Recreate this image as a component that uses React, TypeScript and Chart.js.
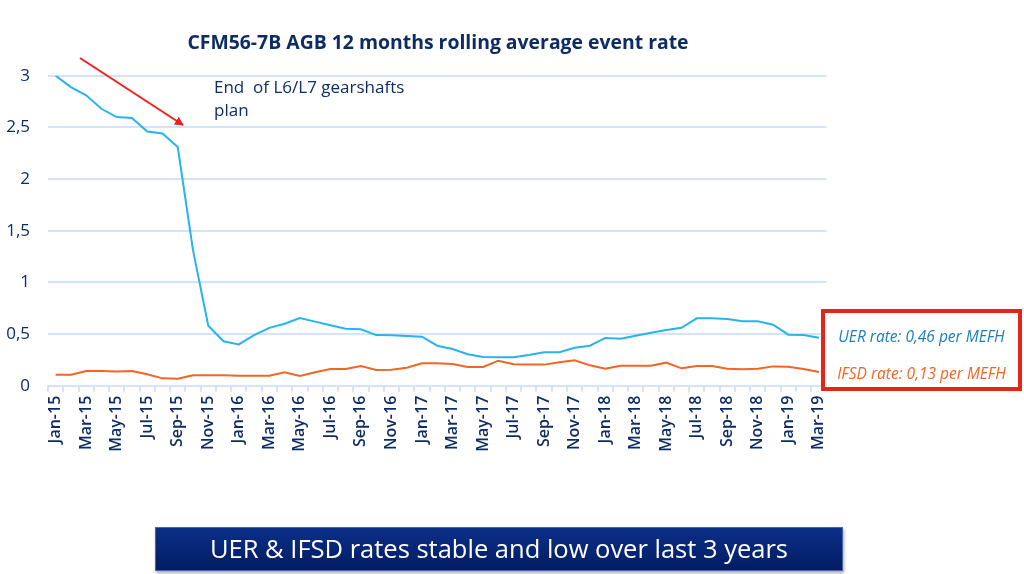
import React, { useEffect, useRef } from "react";
import { Chart, registerables } from "chart.js";
Chart.register(...registerables);

const months = [
  "Jan-15","Feb-15","Mar-15","Apr-15","May-15","Jun-15","Jul-15","Aug-15","Sep-15","Oct-15","Nov-15","Dec-15",
  "Jan-16","Feb-16","Mar-16","Apr-16","May-16","Jun-16","Jul-16","Aug-16","Sep-16","Oct-16","Nov-16","Dec-16",
  "Jan-17","Feb-17","Mar-17","Apr-17","May-17","Jun-17","Jul-17","Aug-17","Sep-17","Oct-17","Nov-17","Dec-17",
  "Jan-18","Feb-18","Mar-18","Apr-18","May-18","Jun-18","Jul-18","Aug-18","Sep-18","Oct-18","Nov-18","Dec-18",
  "Jan-19","Feb-19","Mar-19",
];

const uerRate = [
  3.0, 2.89, 2.81, 2.68, 2.6, 2.59, 2.46, 2.44, 2.31, 1.31, 0.58, 0.43,
  0.4, 0.49, 0.56, 0.6, 0.655, 0.62, 0.585, 0.552, 0.546, 0.49, 0.488, 0.481,
  0.474, 0.387, 0.355, 0.304, 0.278, 0.275, 0.275, 0.297, 0.323, 0.323, 0.368, 0.387,
  0.462, 0.455, 0.484, 0.513, 0.539, 0.561, 0.652, 0.652, 0.646, 0.623, 0.623, 0.59,
  0.494, 0.49, 0.465,
];

const ifsdRate = [
  0.107, 0.107, 0.142, 0.142, 0.138, 0.142, 0.11, 0.071, 0.068, 0.1, 0.1, 0.1,
  0.097, 0.097, 0.097, 0.13, 0.094, 0.13, 0.161, 0.161, 0.19, 0.152, 0.155, 0.174,
  0.217, 0.217, 0.21, 0.181, 0.181, 0.242, 0.207, 0.204, 0.204, 0.226, 0.246, 0.197,
  0.165, 0.194, 0.194, 0.194, 0.223, 0.168, 0.19, 0.19, 0.165, 0.158, 0.165, 0.187,
  0.184, 0.161, 0.132,
];

const yMin = 0;
const yMax = 3;
const yStep = 0.5;

const NAVY = "#0d2c66";
const BLUE = "#27b4ee";
const ORANGE = "#f26522";
const GRID = "#d3e3fa";

export default function App() {
  const ref = useRef<HTMLCanvasElement | null>(null);

  useEffect(() => {
    if (!ref.current) return;
    const chart = new Chart(ref.current, {
      type: "line",
      data: {
        labels: months,
        datasets: [
          {
            label: "UER rate",
            data: uerRate,
            borderColor: BLUE,
            borderWidth: 2,
            pointRadius: 0,
            tension: 0,
            fill: false,
          },
          {
            label: "IFSD rate",
            data: ifsdRate,
            borderColor: ORANGE,
            borderWidth: 2,
            pointRadius: 0,
            tension: 0,
            fill: false,
          },
        ],
      },
      options: {
        animation: false,
        responsive: false,
        devicePixelRatio: 1,
        layout: { padding: { left: 0, right: 197.5, top: 75.7, bottom: 108.3 } },
        plugins: { legend: { display: false }, tooltip: { enabled: false }, title: { display: false } },
        scales: {
          x: {
            type: "category",
            offset: true,
            grid: {
              offset: true,
              drawOnChartArea: false,
              drawTicks: true,
              tickLength: 6,
              color: GRID,
              lineWidth: 2,
            },
            border: { display: true, color: GRID, width: 2 },
            ticks: {
              autoSkip: false,
              maxRotation: 90,
              minRotation: 90,
              padding: 4,
              color: NAVY,
              font: { family: "Open Sans", size: 16, weight: "600" },
              callback: (_v: any, i: number) => (i % 2 === 0 ? months[i] : ""),
            },
            afterFit: (s: any) => {
              s.height = 80;
            },
          },
          y: {
            min: yMin,
            max: yMax,
            grid: { drawTicks: false, color: GRID, lineWidth: 2 },
            border: { display: false },
            ticks: {
              stepSize: yStep,
              padding: 18,
              color: NAVY,
              font: { family: "Open Sans", size: 17 },
              callback: (v: any) => String(v).replace(".", ","),
            },
            afterFit: (s: any) => {
              s.width = 48;
            },
          },
        },
      },
    });
    return () => chart.destroy();
  }, []);

  return (
    <div style={{ position: "fixed", left: 0, top: 0, width: 1024, height: 574, background: "#fff", fontFamily: "Open Sans" }}>
      <canvas ref={ref} width={1024} height={574} style={{ position: "absolute", left: 0, top: 0, width: 1024, height: 574 }} />
      <div style={{ position: "absolute", left: 0, width: 876, top: 28, textAlign: "center", color: NAVY, fontWeight: 700, fontSize: 19.4, whiteSpace: "nowrap" }}>
        CFM56-7B AGB 12 months rolling average event rate
      </div>
      <div style={{ position: "absolute", left: 214, top: 75, color: NAVY, fontSize: 17, lineHeight: "23px", whiteSpace: "pre" }}>
        {"End  of L6/L7 gearshafts\nplan"}
      </div>
      <svg width={1024} height={574} style={{ position: "absolute", left: 0, top: 0, pointerEvents: "none" }}>
        <defs>
          <marker id="ah" markerWidth="9" markerHeight="9" refX="8" refY="4.5" orient="auto" markerUnits="userSpaceOnUse">
            <path d="M0,0 L9,4.5 L0,9 z" fill="#f41e1e" />
          </marker>
        </defs>
        <line x1={80} y1={58} x2={183} y2={125} stroke="#f41e1e" strokeWidth={2} markerEnd="url(#ah)" />
      </svg>
      <div style={{ position: "absolute", left: 821, top: 309, width: 201, height: 82, boxSizing: "border-box", border: "4px solid #e1261c", background: "#fff" }}>
        <div style={{ position: "absolute", left: 0, right: 0, top: 12, textAlign: "center", color: "#1a7fb8", fontStyle: "italic", fontWeight: 500, fontSize: 15.5, whiteSpace: "nowrap" }}>
          UER rate: 0,46 per MEFH
        </div>
        <div style={{ position: "absolute", left: 0, right: 0, top: 49, textAlign: "center", color: ORANGE, fontStyle: "italic", fontWeight: 500, fontSize: 15.5, whiteSpace: "nowrap" }}>
          IFSD rate: 0,13 per MEFH
        </div>
      </div>
      <div style={{ position: "absolute", left: 155, top: 527, width: 688, height: 44, boxSizing: "border-box", background: "linear-gradient(#0b2f88, #021c62)", border: "1px solid #4a64a8", boxShadow: "1px 2px 3px rgba(0,0,0,0.35)", color: "#fff", textAlign: "center", fontSize: 25.5, lineHeight: "41px", whiteSpace: "nowrap" }}>
        UER &amp; IFSD rates stable and low over last 3 years
      </div>
    </div>
  );
}
